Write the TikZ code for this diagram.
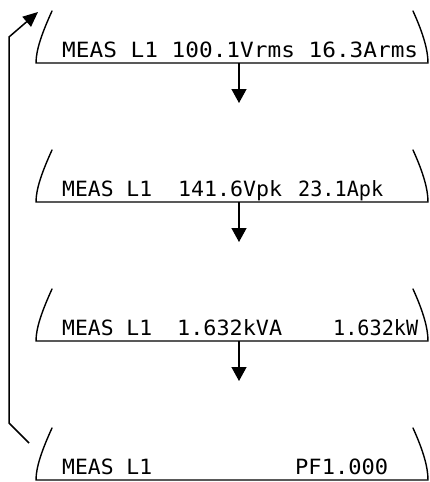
\documentclass[tikz,border=0pt]{standalone}
\usepackage{fontspec}
\usepackage{graphicx}
\setmonofont{DejaVu Sans Mono}
\usetikzlibrary{arrows.meta}
\newcommand{\lcdfit}[2]{\resizebox{#1}{\height}{#2}}
\tikzset{
  lcd/.style={inner sep=0pt, anchor=base west, font=\ttfamily\fontsize{21}{21}\selectfont},
  frame/.style={line width=1.4pt, line cap=round},
  flow/.style={line width=1.3pt, -{Triangle[length=14pt,width=15pt]}},
  loopline/.style={line width=1.5pt, -{Triangle[length=15pt,width=13pt]}}
}
\begin{document}
\begin{tikzpicture}[x=1pt,y=-1pt]
\useasboundingbox (0,0) rectangle (429,482);
% display frames
\foreach \k/\dy in {1/0,2/139,3/278,4/417}{
  \begin{scope}[yshift=-\dy pt]
    \draw[frame] (52,11) .. controls (42,33) and (36,50) .. (36,63) -- (428,63)
      .. controls (428,50) and (423,33) .. (413,11);
    \coordinate (bot\k) at (239,63);
    \coordinate (left\k) at (36,63);
  \end{scope}
}
% texts
\node[lcd] (t1a) at (62,57) {\lcdfit{356pt}{MEAS L1 100.1Vrms 16.3Arms}};
\node[lcd] (t2a) at (62,196) {\lcdfit{90pt}{MEAS L1}};
\node[lcd] (t2b) at (178,196) {\lcdfit{104pt}{141.6Vpk}};
\node[lcd] (t2c) at (298,196) {\lcdfit{85pt}{23.1Apk}};
\node[lcd] (t3a) at (62,335) {\lcdfit{90pt}{MEAS L1}};
\node[lcd] (t3b) at (177,335) {\lcdfit{105pt}{1.632kVA}};
\node[lcd] (t3c) at (333,335) {\lcdfit{85pt}{1.632kW}};
\node[lcd] (t4a) at (62,474) {\lcdfit{90pt}{MEAS L1}};
\node[lcd] (t4b) at (295,474) {\lcdfit{93pt}{PF1.000}};
% arrows between displays
\coordinate (in2) at (239,103);
\coordinate (in3) at (239,242);
\coordinate (in4) at (239,381);
\draw[flow] (bot1) -- (in2);
\draw[flow] (bot2) -- (in3);
\draw[flow] (bot3) -- (in4);
% return loop
\coordinate (ls) at (29,443);
\coordinate (lc1) at (9,423);
\coordinate (lc2) at (9,37);
\coordinate (le) at (38,12);
\draw[loopline] (ls) -- (lc1) -- (lc2) -- (le);
\end{tikzpicture}
\end{document}
